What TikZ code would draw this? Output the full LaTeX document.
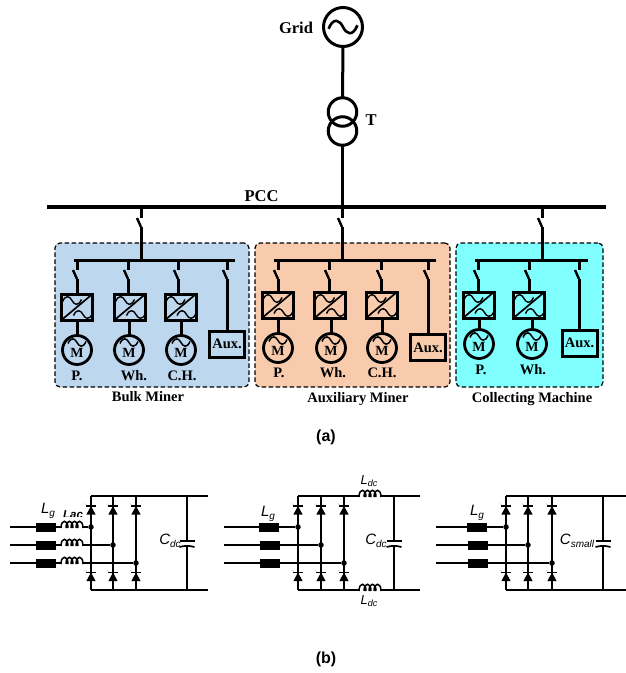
\documentclass[tikz,border=0pt]{standalone}
\usepackage{fontspec}
\setmainfont{Liberation Serif}
\setsansfont{Liberation Sans}
\usetikzlibrary{calc}
\definecolor{bulkc}{HTML}{BDD7EE}
\definecolor{auxc}{HTML}{F8CBAD}
\definecolor{collc}{HTML}{80FFFF}
\newcommand\fs[1]{\fontsize{#1}{#1}\selectfont}
\tikzset{
  x=1pt,y=-1pt,
  pw/.style={line width=3pt},
  hv/.style={line width=3.2pt},
  panel/.style={draw,dash pattern=on 4.5pt off 2.5pt,line width=1.2pt,rounded corners=5pt},
  convbox/.style={draw,line width=3pt,inner sep=0pt,outer sep=0pt,minimum width=31pt,minimum height=26pt},
  auxbox/.style={draw,line width=3pt,inner sep=0pt,outer sep=0pt,minimum width=35pt,minimum height=26pt,font=\bfseries\fs{14.5}},
  motorc/.style={draw,circle,line width=2.8pt,inner sep=0pt,outer sep=0pt,minimum size=29pt},
  bigc/.style={draw,circle,line width=3pt,inner sep=0pt,outer sep=0pt},
  bt/.style={font=\bfseries\fs{14.5},inner sep=0pt},
  wire/.style={line width=1.5pt},
  inwire/.style={line width=1.9pt},
  lgbox/.style={draw,fill=black,inner sep=0pt,outer sep=0pt,minimum width=18pt,minimum height=8pt},
  dotn/.style={circle,fill=black,inner sep=0pt,outer sep=0pt,minimum size=5.5pt},
  sl/.style={font=\sffamily\itshape\fs{15},inner sep=0pt},
  pics/wave/.style={code={\draw[line width=#1] (-9,1) .. controls (-6,-6) and (-2,-4) .. (0,0) .. controls (2,4) and (6,6) .. (9,-1);}},
  pics/diode/.style={code={
    \fill (-4.6,8.5) -- (4.6,8.5) -- (0,0) -- cycle;
    \draw[line width=1.3pt] (-5,0) -- (5,0);
    \draw[gray!40,line width=.6pt] (-6.5,-2.5) -- (-4,-1);}},
  pics/coil/.style={code={
    \draw[line width=1.5pt] (0,1) .. controls (0,-8) and (7,-8) .. (7,1)
      (5,1) .. controls (5,-8) and (12,-8) .. (12,1)
      (10,1) .. controls (10,-8) and (17,-8) .. (17,1)
      (15,1) .. controls (15,-8) and (22,-8) .. (22,1);}},
}
% switched line: name, from, to, x, y of the blade centre
\newcommand\swline[5]{%
  \coordinate (#1u) at (#4,#5-5);
  \coordinate (#1b) at (#4-4,#5-5);
  \coordinate (#1d) at (#4,#5+4);
  \draw[pw] (#2) -- (#1u);
  \draw[pw] (#1d) -- (#3);
  \draw[line width=2.4pt] (#1b) -- (#1d);}
% drive: name, busy, bx, swy, cx, cy, mx, my, label, lx, ly
\newcommand\drive[9]{%
  \coordinate (#1bus) at (#2,260);
  \node[convbox] (#1c) at (#4,#5) {};
  \draw[line width=1.7pt] (#1c.south west) -- (#1c.north east);
  \pic[scale=1.05] at ($(#1c)+(-5,-6.5)$) {wave=1.4pt};
  \pic[scale=1.05] at ($(#1c)+(6,7.5)$) {wave=1.4pt};
  \coordinate (#1ct) at (#2,#5-13);
  \swline{#1s}{#1bus}{#1ct}{#2}{#3}
  \node[motorc] (#1m) at (#6,#7) {};
  \draw[pw] (#6,#5+13) -- (#1m.north);
  \pic at ($(#1m)+(0,-7.5)$) {wave=1.5pt};
  \node[font=\bfseries\fs{14},inner sep=0pt] at ($(#1m)+(0,2.5)$) {M};
  \node[bt] at (#8,#9) {\drivelabel};}
\newcommand\drivelabel{}
\newcommand\auxunit[6]{% name, x, swy, bx, by, dummy
  \coordinate (#1bus) at (#2,260);
  \node[auxbox] (#1a) at (#4,#5) {Aux.};
  \coordinate (#1at) at (#2,#5-13);
  \swline{#1s}{#1bus}{#1at}{#2}{#3}}
% rectifier: prefix, x1, x2, x3, x-right
\newcommand\rect[5]{%
  \node[dotn] (#1j1) at (#2,527) {};
  \node[dotn] (#1j2) at (#3,545) {};
  \node[dotn] (#1j3) at (#4,563) {};
  \foreach \xx in {#2,#3,#4}{
    \draw[wire] (\xx,496) -- (\xx,590);
    \pic at (\xx,506) {diode};
    \pic at (\xx,572.5) {diode};}
}
\newcommand\capac[2]{% name, x
  \coordinate (#1t) at (#2,541);
  \coordinate (#1b) at (#2,546.5);
  \draw[line width=1.7pt] (#2-7.5,541) -- (#2+7.5,541);
  \draw[line width=1.7pt] (#2-7.5,547) .. controls (#2-2,545.5) and (#2+2,545.5) .. (#2+7.5,547);
  \draw[wire] (#2,496) -- (#1t) (#1b) -- (#2,590);}
\newcommand\subl[4]{{\sffamily\itshape\fs{#3}#1\raisebox{-.22em}{\fs{#4}#2}}}
\begin{document}
\begin{tikzpicture}
\useasboundingbox (0,0) rectangle (626,673);
% grid
\node[bigc,minimum size=39pt] (grid) at (343,27) {};
\pic[xscale=1.6,yscale=1.7] at (grid) {wave=2.6pt};
\node[font=\bfseries\fs{16.5},inner sep=0pt] (gridl) at (296,28) {Grid};
\node[bigc,minimum size=28.5pt] (t1) at (342.5,112) {};
\node[bigc,minimum size=28.5pt] (t2) at (342.5,131) {};
\node[font=\bfseries\fs{16.5},inner sep=0pt] (tl) at (371,120) {T};
\draw[pw] (grid.south) -- (t1.north);
\coordinate (pa) at (47,207);
\coordinate (pb) at (606,207);
\coordinate (p2) at (342.5,207);
\draw[pw] (t2.south) -- (p2);
\draw[hv] (pa) -- (pb);
\node[font=\bfseries\fs{16.5},inner sep=0pt] (pccl) at (261.5,196) {PCC};
% panels
\node[panel,fill=bulkc,minimum width=194pt,minimum height=144pt,inner sep=0pt] (pb1) at (152,315) {};
\node[panel,fill=auxc,minimum width=195pt,minimum height=144pt,inner sep=0pt] (pb2) at (352.5,315) {};
\node[panel,fill=collc,minimum width=147pt,minimum height=144pt,inner sep=0pt] (pb3) at (529.5,315) {};
% feeders
\coordinate (f1) at (141,207); \coordinate (f1b) at (141,260);
\coordinate (f2) at (342,207); \coordinate (f2b) at (342,260);
\coordinate (f3) at (542,207); \coordinate (f3b) at (542,260);
\swline{fa}{f1}{f1b}{141}{223}
\swline{fb}{f2}{f2b}{342}{223}
\swline{fc}{f3}{f3b}{542}{223}
\coordinate (s1a) at (74,260); \coordinate (s1b) at (235,260);
\coordinate (s2a) at (274,260); \coordinate (s2b) at (436,260);
\coordinate (s3a) at (475,260); \coordinate (s3b) at (588,260);
\draw[pw] (s1a) -- (s1b) (s2a) -- (s2b) (s3a) -- (s3b);
% bulk miner
\renewcommand\drivelabel{P.}\drive{a1}{77}{275}{77}{307}{77}{350}{77}{376}
\renewcommand\drivelabel{Wh.}\drive{a2}{128}{275}{130}{307}{129}{350}{134}{376}
\renewcommand\drivelabel{C.H.}\drive{a3}{178}{275}{180.5}{307}{181}{350}{182}{376}
\auxunit{a4}{227}{275}{227}{344}{}
\node[bt] at (148,397) {Bulk Miner};
% auxiliary miner
\renewcommand\drivelabel{P.}\drive{b1}{278}{275}{277.5}{305}{278}{348}{279}{373}
\renewcommand\drivelabel{Wh.}\drive{b2}{329}{275}{330}{305}{331}{348}{333}{373}
\renewcommand\drivelabel{C.H.}\drive{b3}{381}{275}{381.5}{305}{382}{348}{382}{373}
\auxunit{b4}{428}{275}{428}{347.5}{}
\node[bt] at (358,399) {Auxiliary Miner};
% collecting machine
\renewcommand\drivelabel{P.}\drive{c1}{478}{275}{478.5}{305}{479}{344}{481}{370}
\renewcommand\drivelabel{Wh.}\drive{c2}{529}{275}{529}{305}{532}{344}{533}{370}
\auxunit{c4}{579}{275}{579.5}{343}{}
\node[bt] at (532,399) {Collecting Machine};
\node[font=\sffamily\bfseries\fs{16},inner sep=0pt] (la) at (326,437) {(a)};
\node[font=\sffamily\bfseries\fs{16},inner sep=0pt] (lb) at (326,659) {(b)};
% rectifier 1
\rect{r}{91}{113}{136}{208}
\draw[wire] (91,496) -- (208,496) (91,590) -- (208,590);
\capac{ca}{187}
\foreach \n/\y in {1/527,2/545,3/563}{
  \coordinate (ri\n) at (10,\y);
  \node[lgbox,minimum width=19pt] (rl\n) at (45.5,\y) {};
  \coordinate (rc\n) at (61,\y);
  \coordinate (rd\n) at (83,\y);
  \draw[inwire] (ri\n) -- (rl\n);
  \draw[wire] (rl\n) -- (rc\n) (rd\n) -- (rj\n);
  \pic at (rc\n) {coil};
}
\node[sl] at (48,511) {\subl{L}{g}{15}{10}};
\begin{scope}
\clip (58,505) rectangle (90,516.5);
\node[font=\sffamily\itshape\bfseries\fs{11.5},inner sep=0pt] at (73,514.5) {Lac};
\end{scope}
\node[sl] at (170,541) {\subl{C}{dc}{15}{10}};
% rectifier 2
\rect{q}{298}{321}{344}{420}
\coordinate (qa) at (359,496); \coordinate (qb) at (381,496);
\coordinate (qc) at (359,590); \coordinate (qd) at (381,590);
\draw[wire] (298,496) -- (qa) (qb) -- (420,496) (298,590) -- (qc) (qd) -- (420,590);
\pic at (qa) {coil}; \pic at (qc) {coil};
\capac{cb}{394}
\foreach \n/\y/\xb in {1/527/268.5,2/545/269.5,3/563/269.5}{
  \coordinate (qi\n) at (224,\y);
  \node[lgbox,minimum width=19pt] (ql\n) at (\xb,\y) {};
  \draw[inwire] (qi\n) -- (ql\n);
  \draw[wire] (ql\n) -- (qj\n);
}
\node[sl] at (268,514) {\subl{L}{g}{15}{10}};
\node[sl] at (369,481) {\subl{L}{dc}{13}{9}};
\node[sl] at (369,601) {\subl{L}{dc}{13}{9}};
\node[sl] at (376,541) {\subl{C}{dc}{15}{10}};
% rectifier 3
\rect{w}{506}{528}{552}{626}
\draw[wire] (506,496) -- (626,496) (506,590) -- (626,590);
\capac{cc}{603}
\foreach \n/\y/\xb in {1/527/476.5,2/545/477.5,3/563/477.5}{
  \coordinate (wi\n) at (436,\y);
  \node[lgbox,minimum width=19pt] (wl\n) at (\xb,\y) {};
  \draw[inwire] (wi\n) -- (wl\n);
  \draw[wire] (wl\n) -- (wj\n);
}
\node[sl] at (477,513) {\subl{L}{g}{15}{10}};
\node[sl] at (577,541) {\subl{C}{small}{15}{10}};
\end{tikzpicture}
\end{document}
